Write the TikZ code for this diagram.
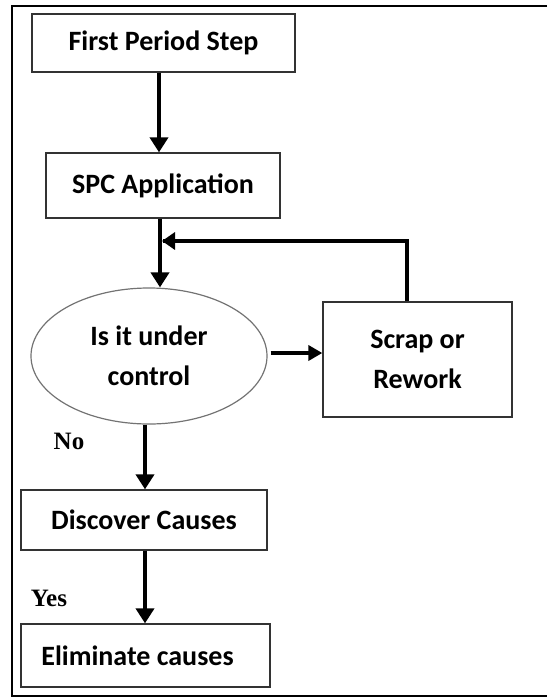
\documentclass[tikz,border=0pt]{standalone}
\usepackage{fontspec}
\setmainfont{Carlito}
\newfontfamily\labelfont{Liberation Serif}
\usetikzlibrary{arrows.meta,shapes.geometric}

\begin{document}
\begin{tikzpicture}[x=1pt,y=-1pt,
  box/.style={draw=black!80,line width=1.3pt,rectangle,inner sep=0pt,
    font=\fontsize{28}{33}\selectfont\bfseries,align=center},
  oval/.style={draw=black!55,line width=1.2pt,ellipse,inner sep=0pt,
    font=\fontsize{28}{40}\selectfont\bfseries,align=center},
  arr/.style={line width=4.5pt,-{Triangle[length=15pt,width=18pt]}},
  tag/.style={font=\labelfont\fontsize{25}{27}\selectfont\bfseries,inner sep=0pt}]
  \useasboundingbox (0,0) rectangle (547,697);
  % outer frame, open on the right
  \draw[line width=2pt] (547,6) -- (12,6) -- (12,695.5) -- (547,695.5);

  % boxes
  \node[box,minimum width=263pt,minimum height=58pt] (first) at (163.5,43) {First Period Step};
  \node[box,minimum width=234pt,minimum height=65pt] (spc) at (163,185.5) {SPC Application};
  \node[oval,minimum width=236pt,minimum height=136pt] (ctrl) at (149,356) {Is it under\\control};
  \node[box,minimum width=189pt,minimum height=115pt,
        font=\fontsize{28}{40}\selectfont\bfseries] (scrap) at (417.5,359.5) {Scrap or\\Rework};
  \node[box,minimum width=246pt,minimum height=60pt] (disc) at (144,520) {Discover Causes};
  \node[box,minimum width=249pt,minimum height=63pt] (elim) at (145.5,655.5) {Eliminate causes\hspace{16pt}};

  % decision labels
  \node[tag] (no) at (69,441) {No};
  \node[tag] (yes) at (49,598) {Yes};

  % connectors
  \draw[arr] ([xshift=-4.5pt]first.south) -- ([xshift=-4.5pt]first.south |- spc.north);
  \coordinate (join) at ([xshift=-3pt]spc.south |- 0,241);
  \draw[arr] ([xshift=-3pt]spc.south) -- ([xshift=-3pt]spc.south |- ctrl.north);
  \draw[line width=4.5pt] ([xshift=-10.5pt]scrap.north) |- ([xshift=3pt]join);
  \draw[arr,-{Triangle[length=13pt,width=17pt]}] ([xshift=-10.5pt]scrap.north |- join) -- ([xshift=2pt]join);
  \coordinate (side) at ([xshift=3pt]ctrl.east |- 0,353);
  \draw[arr,-{Triangle[length=14pt,width=15pt]}] (side) -- (scrap.west |- side);
  \draw[arr] ([xshift=-4pt]ctrl.south) -- ([xshift=-4pt]ctrl.south |- disc.north);
  \draw[arr] (disc.south -| 145,0) -- (elim.north -| 145,0);
\end{tikzpicture}
\end{document}
